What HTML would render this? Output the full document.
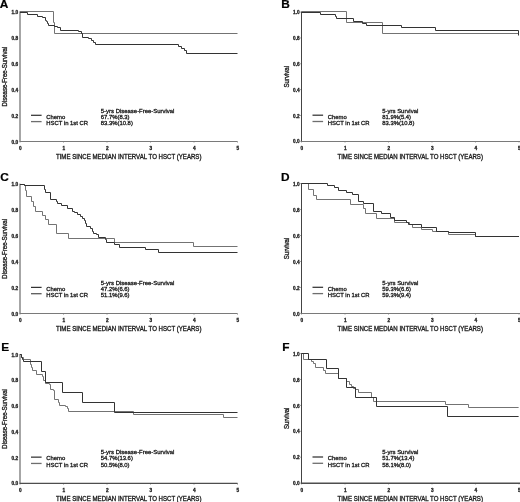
<!DOCTYPE html><html><head><meta charset="utf-8"><style>html,body{margin:0;padding:0;background:#fff;width:520px;height:502px;overflow:hidden}svg{display:block;filter:grayscale(1)}text{font-family:"Liberation Sans", sans-serif;stroke:#1a1a1a;stroke-width:0.3px;paint-order:stroke}</style></head><body>
<svg width="520" height="502" viewBox="0 0 520 502">
<rect width="520" height="502" fill="#fff"/>
<g id="pA"><line x1="20" y1="11.5" x2="20" y2="141.5" stroke="#a6a6a6" stroke-width="2.0"/><line x1="19.5" y1="141.5" x2="237.5" y2="141.5" stroke="#7a7a7a" stroke-width="1.0"/><line x1="18.7" y1="141.40" x2="20" y2="141.40" stroke="#a6a6a6" stroke-width="0.6"/><text x="18.1" y="143.55" font-size="4.7" font-weight="bold" text-anchor="end" fill="#222">0.0</text><line x1="18.7" y1="115.52" x2="20" y2="115.52" stroke="#a6a6a6" stroke-width="0.6"/><text x="18.1" y="117.67" font-size="4.7" font-weight="bold" text-anchor="end" fill="#222">0.2</text><line x1="18.7" y1="89.64" x2="20" y2="89.64" stroke="#a6a6a6" stroke-width="0.6"/><text x="18.1" y="91.79" font-size="4.7" font-weight="bold" text-anchor="end" fill="#222">0.4</text><line x1="18.7" y1="63.76" x2="20" y2="63.76" stroke="#a6a6a6" stroke-width="0.6"/><text x="18.1" y="65.91" font-size="4.7" font-weight="bold" text-anchor="end" fill="#222">0.6</text><line x1="18.7" y1="37.88" x2="20" y2="37.88" stroke="#a6a6a6" stroke-width="0.6"/><text x="18.1" y="40.03" font-size="4.7" font-weight="bold" text-anchor="end" fill="#222">0.8</text><line x1="18.7" y1="12.00" x2="20" y2="12.00" stroke="#a6a6a6" stroke-width="0.6"/><text x="18.1" y="14.15" font-size="4.7" font-weight="bold" text-anchor="end" fill="#222">1.0</text><line x1="20.00" y1="141.4" x2="20.00" y2="142.70000000000002" stroke="#7a7a7a" stroke-width="0.6"/><text x="20.40" y="149.80" font-size="4.7" font-weight="bold" text-anchor="middle" fill="#222">0</text><line x1="63.50" y1="141.4" x2="63.50" y2="142.70000000000002" stroke="#7a7a7a" stroke-width="0.6"/><text x="63.90" y="149.80" font-size="4.7" font-weight="bold" text-anchor="middle" fill="#222">1</text><line x1="107.00" y1="141.4" x2="107.00" y2="142.70000000000002" stroke="#7a7a7a" stroke-width="0.6"/><text x="107.40" y="149.80" font-size="4.7" font-weight="bold" text-anchor="middle" fill="#222">2</text><line x1="150.50" y1="141.4" x2="150.50" y2="142.70000000000002" stroke="#7a7a7a" stroke-width="0.6"/><text x="150.90" y="149.80" font-size="4.7" font-weight="bold" text-anchor="middle" fill="#222">3</text><line x1="194.00" y1="141.4" x2="194.00" y2="142.70000000000002" stroke="#7a7a7a" stroke-width="0.6"/><text x="194.40" y="149.80" font-size="4.7" font-weight="bold" text-anchor="middle" fill="#222">4</text><line x1="237.50" y1="141.4" x2="237.50" y2="142.70000000000002" stroke="#7a7a7a" stroke-width="0.6"/><text x="237.90" y="149.80" font-size="4.7" font-weight="bold" text-anchor="middle" fill="#222">5</text><text transform="translate(128.70,158.80) scale(1,1.04)" font-size="6.1" text-anchor="middle" fill="#1a1a1a">TIME SINCE MEDIAN INTERVAL TO HSCT (YEARS)</text><text transform="translate(7.30,76.70) rotate(-90) scale(1,1.04)" font-size="6.05" text-anchor="middle" fill="#1a1a1a">Disease-Free-Survival</text><line x1="31" y1="115.30" x2="41.6" y2="115.30" stroke="#333" stroke-width="1.25"/><line x1="31" y1="121.60" x2="41.6" y2="121.60" stroke="#6e6e6e" stroke-width="1.3"/><text transform="translate(46.30,118.60) scale(1,1.04)" font-size="5.9" fill="#1a1a1a">Chemo</text><text transform="translate(46.30,124.80) scale(1,1.04)" font-size="5.9" fill="#1a1a1a">HSCT in 1st CR</text><text transform="translate(100.80,112.60) scale(1,1.04)" font-size="5.95" fill="#1a1a1a">5-yrs Disease-Free-Survival</text><text transform="translate(100.80,118.60) scale(1,1.04)" font-size="5.9" fill="#1a1a1a">67.7%(8.3)</text><text transform="translate(100.80,124.80) scale(1,1.04)" font-size="5.9" fill="#1a1a1a">83.3%(10.8)</text><text transform="translate(-0.3,8.3) scale(1.08,1)" font-size="11.0" font-weight="bold" fill="#000" style="stroke:#000;stroke-width:0.2px">A</text><path d="M 20,11.5 H 53.5 V 22.5 H 54.5 V 33.5 H 237.5" fill="none" stroke="#737373" stroke-width="1.0"/><path d="M 20,12.5 H 27.5 V 14.5 H 37.5 V 16.5 H 42.5 V 17.5 H 45.5 V 20.5 H 46.5 V 21.5 H 47.5 V 23.5 H 48.5 V 25.5 H 54.5 V 26.5 H 57.5 V 27.5 H 60.5 V 30.5 H 78.5 V 31.5 H 81.5 V 33.5 H 82.5 V 37.5 H 88.5 V 38.5 H 91.5 V 40.5 H 93.5 V 42.5 H 95.5 V 44.5 H 178.5 V 46.5 H 181.5 V 48.5 H 184.5 V 50.5 H 186.5 V 53.5 H 237.5" fill="none" stroke="#333" stroke-width="1.0"/></g>
<g id="pB"><line x1="301.5" y1="11.6" x2="301.5" y2="141.5" stroke="#444" stroke-width="1.0"/><line x1="301.0" y1="141.5" x2="520" y2="141.5" stroke="#7a7a7a" stroke-width="1.0"/><line x1="300.2" y1="141.30" x2="301.5" y2="141.30" stroke="#444" stroke-width="0.6"/><text x="299.6" y="143.45" font-size="4.7" font-weight="bold" text-anchor="end" fill="#222">0.0</text><line x1="300.2" y1="115.46" x2="301.5" y2="115.46" stroke="#444" stroke-width="0.6"/><text x="299.6" y="117.61" font-size="4.7" font-weight="bold" text-anchor="end" fill="#222">0.2</text><line x1="300.2" y1="89.62" x2="301.5" y2="89.62" stroke="#444" stroke-width="0.6"/><text x="299.6" y="91.77" font-size="4.7" font-weight="bold" text-anchor="end" fill="#222">0.4</text><line x1="300.2" y1="63.78" x2="301.5" y2="63.78" stroke="#444" stroke-width="0.6"/><text x="299.6" y="65.93" font-size="4.7" font-weight="bold" text-anchor="end" fill="#222">0.6</text><line x1="300.2" y1="37.94" x2="301.5" y2="37.94" stroke="#444" stroke-width="0.6"/><text x="299.6" y="40.09" font-size="4.7" font-weight="bold" text-anchor="end" fill="#222">0.8</text><line x1="300.2" y1="12.10" x2="301.5" y2="12.10" stroke="#444" stroke-width="0.6"/><text x="299.6" y="14.25" font-size="4.7" font-weight="bold" text-anchor="end" fill="#222">1.0</text><line x1="301.50" y1="141.3" x2="301.50" y2="142.60000000000002" stroke="#7a7a7a" stroke-width="0.6"/><text x="301.90" y="149.70" font-size="4.7" font-weight="bold" text-anchor="middle" fill="#222">0</text><line x1="345.00" y1="141.3" x2="345.00" y2="142.60000000000002" stroke="#7a7a7a" stroke-width="0.6"/><text x="345.40" y="149.70" font-size="4.7" font-weight="bold" text-anchor="middle" fill="#222">1</text><line x1="388.50" y1="141.3" x2="388.50" y2="142.60000000000002" stroke="#7a7a7a" stroke-width="0.6"/><text x="388.90" y="149.70" font-size="4.7" font-weight="bold" text-anchor="middle" fill="#222">2</text><line x1="432.00" y1="141.3" x2="432.00" y2="142.60000000000002" stroke="#7a7a7a" stroke-width="0.6"/><text x="432.40" y="149.70" font-size="4.7" font-weight="bold" text-anchor="middle" fill="#222">3</text><line x1="475.50" y1="141.3" x2="475.50" y2="142.60000000000002" stroke="#7a7a7a" stroke-width="0.6"/><text x="475.90" y="149.70" font-size="4.7" font-weight="bold" text-anchor="middle" fill="#222">4</text><line x1="519.00" y1="141.3" x2="519.00" y2="142.60000000000002" stroke="#7a7a7a" stroke-width="0.6"/><text x="519.40" y="149.70" font-size="4.7" font-weight="bold" text-anchor="middle" fill="#222">5</text><text transform="translate(410.20,158.70) scale(1,1.04)" font-size="6.1" text-anchor="middle" fill="#1a1a1a">TIME SINCE MEDIAN INTERVAL TO HSCT (YEARS)</text><text transform="translate(288.80,76.70) rotate(-90) scale(1,1.04)" font-size="6.05" text-anchor="middle" fill="#1a1a1a">Survival</text><line x1="312.5" y1="115.20" x2="323.1" y2="115.20" stroke="#333" stroke-width="1.25"/><line x1="312.5" y1="121.50" x2="323.1" y2="121.50" stroke="#6e6e6e" stroke-width="1.3"/><text transform="translate(327.80,118.50) scale(1,1.04)" font-size="5.9" fill="#1a1a1a">Chemo</text><text transform="translate(327.80,124.70) scale(1,1.04)" font-size="5.9" fill="#1a1a1a">HSCT in 1st CR</text><text transform="translate(382.30,112.50) scale(1,1.04)" font-size="5.95" fill="#1a1a1a">5-yrs Survival</text><text transform="translate(382.30,118.50) scale(1,1.04)" font-size="5.9" fill="#1a1a1a">81.9%(5.4)</text><text transform="translate(382.30,124.70) scale(1,1.04)" font-size="5.9" fill="#1a1a1a">83.3%(10.8)</text><text transform="translate(281.3,8.3) scale(1.08,1)" font-size="11.0" font-weight="bold" fill="#000" style="stroke:#000;stroke-width:0.2px">B</text><path d="M 301.5,11.5 H 346.5 V 22.5 H 382.5 V 33.5 H 518.5" fill="none" stroke="#737373" stroke-width="1.0"/><path d="M 301.5,12.5 H 320.5 V 14.5 H 335.5 V 16.5 H 336.5 V 18.5 H 353.5 V 21.5 H 362.5 V 23.5 H 366.5 V 25.5 H 401.5 V 27.5 H 435.5 V 30.5 H 518.5 V 35.5" fill="none" stroke="#333" stroke-width="1.0"/></g>
<g id="pC"><line x1="20" y1="183.7" x2="20" y2="313.5" stroke="#a6a6a6" stroke-width="2.0"/><line x1="19.5" y1="313.5" x2="237.5" y2="313.5" stroke="#7a7a7a" stroke-width="1.0"/><line x1="18.7" y1="313.50" x2="20" y2="313.50" stroke="#a6a6a6" stroke-width="0.6"/><text x="18.1" y="315.65" font-size="4.7" font-weight="bold" text-anchor="end" fill="#222">0.0</text><line x1="18.7" y1="287.64" x2="20" y2="287.64" stroke="#a6a6a6" stroke-width="0.6"/><text x="18.1" y="289.79" font-size="4.7" font-weight="bold" text-anchor="end" fill="#222">0.2</text><line x1="18.7" y1="261.78" x2="20" y2="261.78" stroke="#a6a6a6" stroke-width="0.6"/><text x="18.1" y="263.93" font-size="4.7" font-weight="bold" text-anchor="end" fill="#222">0.4</text><line x1="18.7" y1="235.92" x2="20" y2="235.92" stroke="#a6a6a6" stroke-width="0.6"/><text x="18.1" y="238.07" font-size="4.7" font-weight="bold" text-anchor="end" fill="#222">0.6</text><line x1="18.7" y1="210.06" x2="20" y2="210.06" stroke="#a6a6a6" stroke-width="0.6"/><text x="18.1" y="212.21" font-size="4.7" font-weight="bold" text-anchor="end" fill="#222">0.8</text><line x1="18.7" y1="184.20" x2="20" y2="184.20" stroke="#a6a6a6" stroke-width="0.6"/><text x="18.1" y="186.35" font-size="4.7" font-weight="bold" text-anchor="end" fill="#222">1.0</text><line x1="20.00" y1="313.5" x2="20.00" y2="314.8" stroke="#7a7a7a" stroke-width="0.6"/><text x="20.40" y="321.90" font-size="4.7" font-weight="bold" text-anchor="middle" fill="#222">0</text><line x1="63.50" y1="313.5" x2="63.50" y2="314.8" stroke="#7a7a7a" stroke-width="0.6"/><text x="63.90" y="321.90" font-size="4.7" font-weight="bold" text-anchor="middle" fill="#222">1</text><line x1="107.00" y1="313.5" x2="107.00" y2="314.8" stroke="#7a7a7a" stroke-width="0.6"/><text x="107.40" y="321.90" font-size="4.7" font-weight="bold" text-anchor="middle" fill="#222">2</text><line x1="150.50" y1="313.5" x2="150.50" y2="314.8" stroke="#7a7a7a" stroke-width="0.6"/><text x="150.90" y="321.90" font-size="4.7" font-weight="bold" text-anchor="middle" fill="#222">3</text><line x1="194.00" y1="313.5" x2="194.00" y2="314.8" stroke="#7a7a7a" stroke-width="0.6"/><text x="194.40" y="321.90" font-size="4.7" font-weight="bold" text-anchor="middle" fill="#222">4</text><line x1="237.50" y1="313.5" x2="237.50" y2="314.8" stroke="#7a7a7a" stroke-width="0.6"/><text x="237.90" y="321.90" font-size="4.7" font-weight="bold" text-anchor="middle" fill="#222">5</text><text transform="translate(128.70,330.90) scale(1,1.04)" font-size="6.1" text-anchor="middle" fill="#1a1a1a">TIME SINCE MEDIAN INTERVAL TO HSCT (YEARS)</text><text transform="translate(7.30,248.85) rotate(-90) scale(1,1.04)" font-size="6.05" text-anchor="middle" fill="#1a1a1a">Disease-Free-Survival</text><line x1="31" y1="287.40" x2="41.6" y2="287.40" stroke="#333" stroke-width="1.25"/><line x1="31" y1="293.70" x2="41.6" y2="293.70" stroke="#5a5a5a" stroke-width="1.3"/><text transform="translate(46.30,290.70) scale(1,1.04)" font-size="5.9" fill="#1a1a1a">Chemo</text><text transform="translate(46.30,296.90) scale(1,1.04)" font-size="5.9" fill="#1a1a1a">HSCT in 1st CR</text><text transform="translate(100.80,284.70) scale(1,1.04)" font-size="5.95" fill="#1a1a1a">5-yrs Disease-Free-Survival</text><text transform="translate(100.80,290.70) scale(1,1.04)" font-size="5.9" fill="#1a1a1a">47.2%(6.6)</text><text transform="translate(100.80,296.90) scale(1,1.04)" font-size="5.9" fill="#1a1a1a">51.1%(9.6)</text><text transform="translate(0.3,180.9) scale(1.08,1)" font-size="11.0" font-weight="bold" fill="#000" style="stroke:#000;stroke-width:0.2px">C</text><path d="M 20,184.5 H 24.5 V 185.5 H 25.5 V 190.5 H 26.5 V 196.5 H 31.5 V 201.5 H 33.5 V 206.5 H 35.5 V 211.5 H 42.5 V 215.5 H 45.5 V 219.5 H 48.5 V 224.5 H 56.5 V 233.5 H 68.5 V 238.5 H 114.5 V 242.5 H 193.5 V 246.5 H 237.5" fill="none" stroke="#737373" stroke-width="1.0"/><path d="M 20,184.5 H 24.5 V 185.5 H 44.5 V 189.5 H 45.5 V 192.5 H 50.5 V 199.5 H 56.5 V 201.5 H 57.5 V 203.5 H 61.5 V 205.5 H 67.5 V 208.5 H 72.5 V 211.5 H 74.5 V 212.5 H 77.5 V 214.5 H 80.5 V 216.5 H 82.5 V 218.5 H 84.5 V 220.5 H 85.5 V 223.5 H 86.5 V 226.5 H 90.5 V 228.5 H 92.5 V 231.5 H 93.5 V 233.5 H 96.5 V 234.5 H 98.5 V 237.5 H 105.5 V 239.5 H 106.5 V 242.5 H 114.5 V 244.5 H 119.5 V 247.5 H 145.5 V 249.5 H 158.5 V 252.5 H 237.5" fill="none" stroke="#333" stroke-width="1.0"/></g>
<g id="pD"><line x1="301.5" y1="183.1" x2="301.5" y2="313.5" stroke="#444" stroke-width="1.0"/><line x1="301.0" y1="313.5" x2="520" y2="313.5" stroke="#7a7a7a" stroke-width="1.0"/><line x1="300.2" y1="313.40" x2="301.5" y2="313.40" stroke="#444" stroke-width="0.6"/><text x="299.6" y="315.55" font-size="4.7" font-weight="bold" text-anchor="end" fill="#222">0.0</text><line x1="300.2" y1="287.44" x2="301.5" y2="287.44" stroke="#444" stroke-width="0.6"/><text x="299.6" y="289.59" font-size="4.7" font-weight="bold" text-anchor="end" fill="#222">0.2</text><line x1="300.2" y1="261.48" x2="301.5" y2="261.48" stroke="#444" stroke-width="0.6"/><text x="299.6" y="263.63" font-size="4.7" font-weight="bold" text-anchor="end" fill="#222">0.4</text><line x1="300.2" y1="235.52" x2="301.5" y2="235.52" stroke="#444" stroke-width="0.6"/><text x="299.6" y="237.67" font-size="4.7" font-weight="bold" text-anchor="end" fill="#222">0.6</text><line x1="300.2" y1="209.56" x2="301.5" y2="209.56" stroke="#444" stroke-width="0.6"/><text x="299.6" y="211.71" font-size="4.7" font-weight="bold" text-anchor="end" fill="#222">0.8</text><line x1="300.2" y1="183.60" x2="301.5" y2="183.60" stroke="#444" stroke-width="0.6"/><text x="299.6" y="185.75" font-size="4.7" font-weight="bold" text-anchor="end" fill="#222">1.0</text><line x1="301.50" y1="313.4" x2="301.50" y2="314.7" stroke="#7a7a7a" stroke-width="0.6"/><text x="301.90" y="321.80" font-size="4.7" font-weight="bold" text-anchor="middle" fill="#222">0</text><line x1="345.00" y1="313.4" x2="345.00" y2="314.7" stroke="#7a7a7a" stroke-width="0.6"/><text x="345.40" y="321.80" font-size="4.7" font-weight="bold" text-anchor="middle" fill="#222">1</text><line x1="388.50" y1="313.4" x2="388.50" y2="314.7" stroke="#7a7a7a" stroke-width="0.6"/><text x="388.90" y="321.80" font-size="4.7" font-weight="bold" text-anchor="middle" fill="#222">2</text><line x1="432.00" y1="313.4" x2="432.00" y2="314.7" stroke="#7a7a7a" stroke-width="0.6"/><text x="432.40" y="321.80" font-size="4.7" font-weight="bold" text-anchor="middle" fill="#222">3</text><line x1="475.50" y1="313.4" x2="475.50" y2="314.7" stroke="#7a7a7a" stroke-width="0.6"/><text x="475.90" y="321.80" font-size="4.7" font-weight="bold" text-anchor="middle" fill="#222">4</text><line x1="519.00" y1="313.4" x2="519.00" y2="314.7" stroke="#7a7a7a" stroke-width="0.6"/><text x="519.40" y="321.80" font-size="4.7" font-weight="bold" text-anchor="middle" fill="#222">5</text><text transform="translate(410.20,330.80) scale(1,1.04)" font-size="6.1" text-anchor="middle" fill="#1a1a1a">TIME SINCE MEDIAN INTERVAL TO HSCT (YEARS)</text><text transform="translate(288.80,248.50) rotate(-90) scale(1,1.04)" font-size="6.05" text-anchor="middle" fill="#1a1a1a">Survival</text><line x1="312.5" y1="287.30" x2="323.1" y2="287.30" stroke="#333" stroke-width="1.25"/><line x1="312.5" y1="293.60" x2="323.1" y2="293.60" stroke="#6e6e6e" stroke-width="1.3"/><text transform="translate(327.80,290.60) scale(1,1.04)" font-size="5.9" fill="#1a1a1a">Chemo</text><text transform="translate(327.80,296.80) scale(1,1.04)" font-size="5.9" fill="#1a1a1a">HSCT in 1st CR</text><text transform="translate(382.30,284.60) scale(1,1.04)" font-size="5.95" fill="#1a1a1a">5-yrs Survival</text><text transform="translate(382.30,290.60) scale(1,1.04)" font-size="5.9" fill="#1a1a1a">59.3%(6.6)</text><text transform="translate(382.30,296.80) scale(1,1.04)" font-size="5.9" fill="#1a1a1a">59.3%(9.4)</text><text transform="translate(281.1,181.0) scale(1.08,1)" font-size="11.0" font-weight="bold" fill="#000" style="stroke:#000;stroke-width:0.2px">D</text><path d="M 301.5,183.5 H 308.5 V 189.5 H 313.5 V 195.5 H 316.5 V 199.5 H 350.5 V 204.5 H 363.5 V 208.5 H 365.5 V 213.5 H 376.5 V 218.5 H 394.5 V 222.5 H 409.5 V 224.5 H 412.5 V 227.5 H 421.5 V 229.5 H 432.5 V 231.5 H 448.5 V 234.5 H 475.5 V 236.5 H 519" fill="none" stroke="#737373" stroke-width="1.0"/><path d="M 301.5,183.5 H 327.5 V 185.5 H 334.5 V 187.5 H 338.5 V 190.5 H 346.5 V 192.5 H 352.5 V 194.5 H 358.5 V 201.5 H 363.5 V 203.5 H 373.5 V 211.5 H 381.5 V 213.5 H 390.5 V 217.5 H 394.5 V 220.5 H 406.5 V 222.5 H 408.5 V 224.5 H 421.5 V 227.5 H 436.5 V 231.5 H 448.5 V 232.5 H 475.5 V 236.5 H 519" fill="none" stroke="#333" stroke-width="1.0"/></g>
<g id="pE"><line x1="20" y1="354.0" x2="20" y2="483.4" stroke="#a6a6a6" stroke-width="2.0"/><line x1="19.5" y1="483.4" x2="237.5" y2="483.4" stroke="#4e4e4e" stroke-width="1.3"/><line x1="18.7" y1="483.25" x2="20" y2="483.25" stroke="#a6a6a6" stroke-width="0.6"/><text x="18.1" y="485.40" font-size="4.7" font-weight="bold" text-anchor="end" fill="#222">0.0</text><line x1="18.7" y1="457.50" x2="20" y2="457.50" stroke="#a6a6a6" stroke-width="0.6"/><text x="18.1" y="459.65" font-size="4.7" font-weight="bold" text-anchor="end" fill="#222">0.2</text><line x1="18.7" y1="431.75" x2="20" y2="431.75" stroke="#a6a6a6" stroke-width="0.6"/><text x="18.1" y="433.90" font-size="4.7" font-weight="bold" text-anchor="end" fill="#222">0.4</text><line x1="18.7" y1="406.00" x2="20" y2="406.00" stroke="#a6a6a6" stroke-width="0.6"/><text x="18.1" y="408.15" font-size="4.7" font-weight="bold" text-anchor="end" fill="#222">0.6</text><line x1="18.7" y1="380.25" x2="20" y2="380.25" stroke="#a6a6a6" stroke-width="0.6"/><text x="18.1" y="382.40" font-size="4.7" font-weight="bold" text-anchor="end" fill="#222">0.8</text><line x1="18.7" y1="354.50" x2="20" y2="354.50" stroke="#a6a6a6" stroke-width="0.6"/><text x="18.1" y="356.65" font-size="4.7" font-weight="bold" text-anchor="end" fill="#222">1.0</text><line x1="20.00" y1="483.25" x2="20.00" y2="484.55" stroke="#4e4e4e" stroke-width="0.6"/><text x="20.40" y="491.65" font-size="4.7" font-weight="bold" text-anchor="middle" fill="#222">0</text><line x1="63.50" y1="483.25" x2="63.50" y2="484.55" stroke="#4e4e4e" stroke-width="0.6"/><text x="63.90" y="491.65" font-size="4.7" font-weight="bold" text-anchor="middle" fill="#222">1</text><line x1="107.00" y1="483.25" x2="107.00" y2="484.55" stroke="#4e4e4e" stroke-width="0.6"/><text x="107.40" y="491.65" font-size="4.7" font-weight="bold" text-anchor="middle" fill="#222">2</text><line x1="150.50" y1="483.25" x2="150.50" y2="484.55" stroke="#4e4e4e" stroke-width="0.6"/><text x="150.90" y="491.65" font-size="4.7" font-weight="bold" text-anchor="middle" fill="#222">3</text><line x1="194.00" y1="483.25" x2="194.00" y2="484.55" stroke="#4e4e4e" stroke-width="0.6"/><text x="194.40" y="491.65" font-size="4.7" font-weight="bold" text-anchor="middle" fill="#222">4</text><line x1="237.50" y1="483.25" x2="237.50" y2="484.55" stroke="#4e4e4e" stroke-width="0.6"/><text x="237.90" y="491.65" font-size="4.7" font-weight="bold" text-anchor="middle" fill="#222">5</text><text transform="translate(128.70,500.65) scale(1,1.04)" font-size="6.1" text-anchor="middle" fill="#1a1a1a">TIME SINCE MEDIAN INTERVAL TO HSCT (YEARS)</text><text transform="translate(7.30,418.88) rotate(-90) scale(1,1.04)" font-size="6.05" text-anchor="middle" fill="#1a1a1a">Disease-Free-Survival</text><line x1="31" y1="457.15" x2="41.6" y2="457.15" stroke="#333" stroke-width="1.25"/><line x1="31" y1="463.45" x2="41.6" y2="463.45" stroke="#6e6e6e" stroke-width="1.3"/><text transform="translate(46.30,460.45) scale(1,1.04)" font-size="5.9" fill="#1a1a1a">Chemo</text><text transform="translate(46.30,466.65) scale(1,1.04)" font-size="5.9" fill="#1a1a1a">HSCT in 1st CR</text><text transform="translate(100.80,454.45) scale(1,1.04)" font-size="5.95" fill="#1a1a1a">5-yrs Disease-Free-Survival</text><text transform="translate(100.80,460.45) scale(1,1.04)" font-size="5.9" fill="#1a1a1a">54.7%(13.6)</text><text transform="translate(100.80,466.65) scale(1,1.04)" font-size="5.9" fill="#1a1a1a">50.5%(8.0)</text><text transform="translate(1.2,350.8) scale(1.08,1)" font-size="11.0" font-weight="bold" fill="#000" style="stroke:#000;stroke-width:0.2px">E</text><path d="M 20,354.5 H 21.5 V 357.5 H 23.5 V 359.5 H 30.5 V 364.5 H 31.5 V 367.5 H 32.5 V 370.5 H 36.5 V 374.5 H 42.5 V 376.5 H 43.5 V 380.5 H 45.5 V 383.5 H 49.5 V 384.5 H 50.5 V 389.5 H 53.5 V 390.5 H 54.5 V 399.5 H 58.5 V 402.5 H 59.5 V 405.5 H 65.5 V 406.5 H 67.5 V 408.5 H 68.5 V 411.5 H 133.5 V 414.5 H 223.5 V 417.5 H 237.5" fill="none" stroke="#737373" stroke-width="1.0"/><path d="M 20,354.5 H 21.5 V 357.5 H 22.5 V 359.5 H 23.5 V 361.5 H 41.5 V 371.5 H 45.5 V 382.5 H 62.5 V 392.5 H 82.5 V 402.5 H 114.5 V 412.5 H 237.5" fill="none" stroke="#333" stroke-width="1.0"/></g>
<g id="pF"><line x1="301.5" y1="353.1" x2="301.5" y2="483.25" stroke="#444" stroke-width="1.0"/><line x1="301.0" y1="483.25" x2="520" y2="483.25" stroke="#4e4e4e" stroke-width="1.3"/><line x1="300.2" y1="483.10" x2="301.5" y2="483.10" stroke="#444" stroke-width="0.6"/><text x="299.6" y="485.25" font-size="4.7" font-weight="bold" text-anchor="end" fill="#222">0.0</text><line x1="300.2" y1="457.20" x2="301.5" y2="457.20" stroke="#444" stroke-width="0.6"/><text x="299.6" y="459.35" font-size="4.7" font-weight="bold" text-anchor="end" fill="#222">0.2</text><line x1="300.2" y1="431.30" x2="301.5" y2="431.30" stroke="#444" stroke-width="0.6"/><text x="299.6" y="433.45" font-size="4.7" font-weight="bold" text-anchor="end" fill="#222">0.4</text><line x1="300.2" y1="405.40" x2="301.5" y2="405.40" stroke="#444" stroke-width="0.6"/><text x="299.6" y="407.55" font-size="4.7" font-weight="bold" text-anchor="end" fill="#222">0.6</text><line x1="300.2" y1="379.50" x2="301.5" y2="379.50" stroke="#444" stroke-width="0.6"/><text x="299.6" y="381.65" font-size="4.7" font-weight="bold" text-anchor="end" fill="#222">0.8</text><line x1="300.2" y1="353.60" x2="301.5" y2="353.60" stroke="#444" stroke-width="0.6"/><text x="299.6" y="355.75" font-size="4.7" font-weight="bold" text-anchor="end" fill="#222">1.0</text><line x1="301.50" y1="483.1" x2="301.50" y2="484.40000000000003" stroke="#4e4e4e" stroke-width="0.6"/><text x="301.90" y="491.50" font-size="4.7" font-weight="bold" text-anchor="middle" fill="#222">0</text><line x1="345.00" y1="483.1" x2="345.00" y2="484.40000000000003" stroke="#4e4e4e" stroke-width="0.6"/><text x="345.40" y="491.50" font-size="4.7" font-weight="bold" text-anchor="middle" fill="#222">1</text><line x1="388.50" y1="483.1" x2="388.50" y2="484.40000000000003" stroke="#4e4e4e" stroke-width="0.6"/><text x="388.90" y="491.50" font-size="4.7" font-weight="bold" text-anchor="middle" fill="#222">2</text><line x1="432.00" y1="483.1" x2="432.00" y2="484.40000000000003" stroke="#4e4e4e" stroke-width="0.6"/><text x="432.40" y="491.50" font-size="4.7" font-weight="bold" text-anchor="middle" fill="#222">3</text><line x1="475.50" y1="483.1" x2="475.50" y2="484.40000000000003" stroke="#4e4e4e" stroke-width="0.6"/><text x="475.90" y="491.50" font-size="4.7" font-weight="bold" text-anchor="middle" fill="#222">4</text><line x1="519.00" y1="483.1" x2="519.00" y2="484.40000000000003" stroke="#4e4e4e" stroke-width="0.6"/><text x="519.40" y="491.50" font-size="4.7" font-weight="bold" text-anchor="middle" fill="#222">5</text><text transform="translate(410.20,500.50) scale(1,1.04)" font-size="6.1" text-anchor="middle" fill="#1a1a1a">TIME SINCE MEDIAN INTERVAL TO HSCT (YEARS)</text><text transform="translate(288.80,418.35) rotate(-90) scale(1,1.04)" font-size="6.05" text-anchor="middle" fill="#1a1a1a">Survival</text><line x1="312.5" y1="457.00" x2="323.1" y2="457.00" stroke="#333" stroke-width="1.25"/><line x1="312.5" y1="463.30" x2="323.1" y2="463.30" stroke="#6e6e6e" stroke-width="1.3"/><text transform="translate(327.80,460.30) scale(1,1.04)" font-size="5.9" fill="#1a1a1a">Chemo</text><text transform="translate(327.80,466.50) scale(1,1.04)" font-size="5.9" fill="#1a1a1a">HSCT in 1st CR</text><text transform="translate(382.30,454.30) scale(1,1.04)" font-size="5.95" fill="#1a1a1a">5-yrs Survival</text><text transform="translate(382.30,460.30) scale(1,1.04)" font-size="5.9" fill="#1a1a1a">51.7%(13.4)</text><text transform="translate(382.30,466.50) scale(1,1.04)" font-size="5.9" fill="#1a1a1a">58.1%(8.0)</text><text transform="translate(282.3,350.9) scale(1.08,1)" font-size="11.0" font-weight="bold" fill="#000" style="stroke:#000;stroke-width:0.2px">F</text><path d="M 301.5,353.5 H 303.5 V 359.5 H 311.5 V 361.5 H 313.5 V 363.5 H 315.5 V 367.5 H 323.5 V 370.5 H 325.5 V 373.5 H 338.5 V 378.5 H 346.5 V 381.5 H 349.5 V 384.5 H 351.5 V 386.5 H 353.5 V 388.5 H 355.5 V 389.5 H 358.5 V 392.5 H 371.5 V 397.5 H 373.5 V 401.5 H 445.5 V 404.5 H 468.5 V 407.5 H 518.6" fill="none" stroke="#737373" stroke-width="1.0"/><path d="M 301.5,353.5 H 308.5 V 359.5 H 326.5 V 368.5 H 338.5 V 378.5 H 346.5 V 387.5 H 355.5 V 397.5 H 376.5 V 406.5 H 447.5 V 416.5 H 518.6" fill="none" stroke="#333" stroke-width="1.0"/></g>
</svg></body></html>
